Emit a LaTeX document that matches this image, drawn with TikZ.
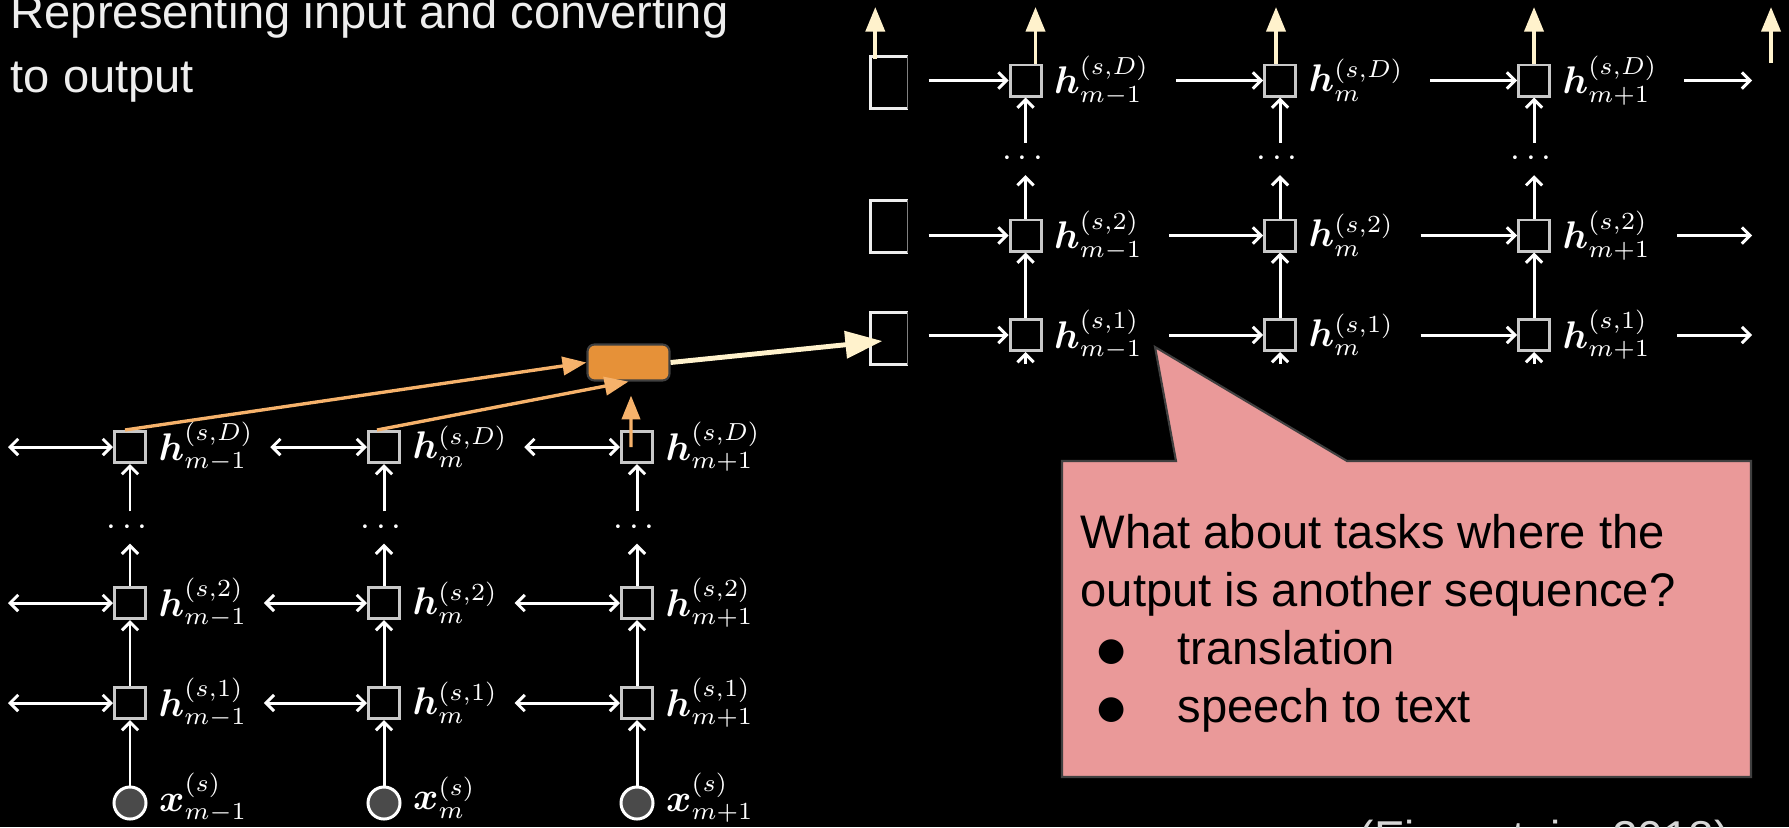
\documentclass[tikz,border=0pt]{standalone}
\usepackage{amsmath}
\usepackage{bm}
\usepackage{fontspec}
\setmainfont{Liberation Sans}
\newfontfamily\symfont{DejaVu Sans}
\usetikzlibrary{positioning, arrows.meta, calc}

\definecolor{slideorange}{HTML}{E69138}
\definecolor{lightorange}{HTML}{F6B26B}
\definecolor{cream}{HTML}{FFF2CC}
\definecolor{callpink}{HTML}{EA9999}
\definecolor{boxgray}{HTML}{C8C8C8}
\definecolor{circgray}{HTML}{4A4A4A}
\definecolor{titlegray}{HTML}{EEEEEE}
\definecolor{edgegray}{HTML}{404040}

\begin{document}
\begin{tikzpicture}[
    x=0.01cm, y=-0.01cm,
    title/.style={text=titlegray, inner sep=0pt, font=\fontsize{13.4}{16}\selectfont},
    cite/.style={text=titlegray!90!black, inner sep=0pt, font=\fontsize{13.1}{16}\selectfont},
    calltext/.style={text=black, inner sep=0pt, font=\fontsize{13.4}{16}\selectfont},
    dot/.style={text=black, inner sep=0pt, font=\symfont\fontsize{9.2}{11}\selectfont},
    cell/.style={draw=boxgray, line width=0.85pt, fill=black, minimum size=0.31cm, inner sep=0pt},
    word/.style={draw=white, line width=0.85pt, fill=circgray, circle, minimum size=0.32cm, inner sep=0pt},
    stub/.style={minimum width=0.36cm, minimum height=0.51cm, inner sep=0pt},
    stubline/.style={draw=titlegray, line width=0.9pt},
    lab/.style={text=white, inner sep=0pt, font=\fontsize{10.6}{13}\selectfont},
    vdots/.style={text=white, inner sep=0pt, minimum height=0.31cm, font=\fontsize{10}{12}\selectfont},
    encbox/.style={draw=edgegray, line width=0.6pt, fill=slideorange, rounded corners=2pt,
                   minimum width=0.82cm, minimum height=0.36cm, inner sep=0pt},
    link/.style={white, line width=0.85pt},
    fwd/.style={-{Straight Barb[length=2.3pt,width=4.6pt]}},
    bidir/.style={{Straight Barb[length=2.3pt,width=4.6pt]}-{Straight Barb[length=2.3pt,width=4.6pt]}},
    attn/.style={lightorange, line width=0.95pt, -{Triangle[length=6.8pt,width=5.2pt]}},
    feed/.style={cream, line width=1.4pt, -{Triangle[length=10.5pt,width=7.6pt]}},
    emit/.style={cream, line width=1.1pt, -{Triangle[length=7pt,width=5.4pt]}},
    callout/.style={fill=callpink, draw=edgegray, line width=0.6pt}
]

\useasboundingbox (0,0) rectangle (1789,827);
\clip (0,0) rectangle (1789,827);
\fill[black] (0,0) rectangle (1789,827);

% --- title ---
\node[title, anchor=base west] (title) at (10,28) {Representing input and converting};
\node[title, anchor=base west] (title2) at (10,92) {to output};

% --- encoder (lower left) ---
\foreach \c/\x/\idx in {1/130/m-1, 2/384/m, 3/637/m+1} {
  \node[word] (x\c) at (\x,803) {};
  \node[cell] (e1\c) at (\x,703) {};
  \node[cell] (e2\c) at (\x,603) {};
  \node[vdots] (ed\c) at (\x,527.5) {$\cdots$};
  \node[cell] (eD\c) at (\x,447) {};
  \node[lab, right=0.11cm of x\c, yshift=0.05cm] (lx\c) {$\bm{x}^{(s)}_{\idx}$};
  \node[lab, right=0.11cm of e1\c] (l1\c) {$\bm{h}^{(s,1)}_{\idx}$};
  \node[lab, right=0.11cm of e2\c] (l2\c) {$\bm{h}^{(s,2)}_{\idx}$};
  \node[lab, right=0.11cm of eD\c] (lD\c) {$\bm{h}^{(s,D)}_{\idx}$};
  \draw[link, fwd] (x\c) -- (e1\c);
  \draw[link, fwd] (e1\c) -- (e2\c);
  \draw[link, fwd] (e2\c) -- (ed\c);
  \draw[link, fwd] (ed\c) -- (eD\c);
}

% left-right links between encoder columns
\coordinate (west) at (8,0);
\foreach \r in {1,2,D} {
  \draw[link, bidir] (e\r1.west -| west) -- (e\r1);
  \draw[link, bidir] ([xshift=0.16cm]l\r1.east) -- (e\r2);
  \draw[link, bidir] ([xshift=0.16cm]l\r2.east) -- (e\r3);
}

% --- summary vector ---
\node[encbox] (enc) at (628.5,362.5) {};
\draw[attn] ([xshift=-0.05cm]eD1.north) -- (enc.west);
\draw[attn] ([xshift=-0.07cm]eD2.north) -- (enc.south);
\draw[attn] ([xshift=-0.06cm]eD3.center) -- ($(enc.south)+(2.5,14)$);

% --- decoder (upper right) ---
\node[stub] (sD) at (889,82.5) {};
\node[stub] (s2) at (889,226.5) {};
\node[stub] (s1) at (889,338.5) {};
\foreach \r in {1,2,D} {
  \draw[stubline] (s\r.north east) -- (s\r.north west) -- (s\r.south west) -- (s\r.south east);
  \draw[gray, line width=0.4pt] (s\r.north east) -- (s\r.south east);
}

\draw[feed] (enc.east) -- ($(s1.west)+(12,2.5)$);

\foreach \c/\x/\idx in {1/1025.5/m-1, 2/1280/m, 3/1534/m+1} {
  \node[cell] (d1\c) at (\x,335) {};
  \node[cell] (d2\c) at (\x,235.5) {};
  \node[vdots] (dd\c) at (\x,159) {$\cdots$};
  \node[cell] (dD\c) at (\x,80.5) {};
  \node[lab, right=0.11cm of d1\c] (k1\c) {$\bm{h}^{(s,1)}_{\idx}$};
  \node[lab, right=0.11cm of d2\c] (k2\c) {$\bm{h}^{(s,2)}_{\idx}$};
  \node[lab, right=0.11cm of dD\c] (kD\c) {$\bm{h}^{(s,D)}_{\idx}$};
  \draw[link, fwd] ([yshift=-0.12cm]d1\c.south) -- (d1\c.south);
  \draw[link, fwd] (d1\c) -- (d2\c);
  \draw[link, fwd] (d2\c) -- (dd\c);
  \draw[link, fwd] (dd\c) -- (dD\c);
}

% left-to-right links
\coordinate (rim) at (1752,0);
\foreach \r in {1,2,D} {
  \draw[link, fwd] ($(s\r.east |- d\r1)+(21,0)$) -- (d\r1);
  \draw[link, fwd] ([xshift=0.26cm]k\r1.east) -- (d\r2);
  \draw[link, fwd] ([xshift=0.26cm]k\r2.east) -- (d\r3);
  \draw[link, fwd] ([xshift=0.26cm]k\r3.east) -- (k\r3.east -| rim);
}

% outputs
\coordinate (top) at (0,7);
\coordinate (lastout) at (1771,63);
\draw[emit] ($(sD.north west)+(5,3)$) -- ($(sD.north west |- top)+(5,0)$);
\draw[emit] ($(dD1.north)+(10,0)$) -- ($(dD1.north |- top)+(10,0)$);
\draw[emit] ($(dD2.north)+(-4,0)$) -- ($(dD2.north |- top)+(-4,0)$);
\draw[emit] (dD3.north) -- (dD3.north |- top);
\draw[emit] (lastout) -- (lastout |- top);

% --- callout ---
\draw[callout] (1062,461) -- (1176,461) -- (1155,347) -- (1347,461) -- (1751,461)
  -- (1751,777) -- (1062,777) -- cycle;
\node[calltext, anchor=base west] (q1) at (1080,548) {What about tasks where the};
\node[calltext, anchor=base west] (q2) at (1080,606) {output is another sequence?};
\node[dot] (b1) at (1112,652) {●};
\node[calltext, anchor=base west] (t1) at (1177,664) {translation};
\node[dot] (b2) at (1112,710) {●};
\node[calltext, anchor=base west] (t2) at (1177,722) {speech to text};

% --- reference ---
\node[cite, anchor=base west] (cite) at (1358,853) {(Eisenstein, 2018)};

\end{tikzpicture}
\end{document}
